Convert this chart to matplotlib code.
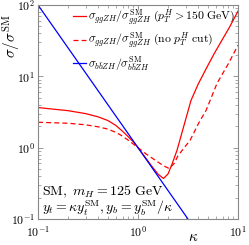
import matplotlib
matplotlib.use('Agg')
import matplotlib.pyplot as plt
import matplotlib.ticker as ticker
import numpy as np

plt.rcParams['mathtext.fontset'] = 'cm'
plt.rcParams['font.family'] = 'serif'
plt.rcParams['font.serif'] = ['DejaVu Serif']

# values
kappa_solid = [0.1, 0.2, 0.3, 0.4, 0.5, 0.6, 0.7, 0.8, 0.9, 1.0, 1.2, 1.4, 1.6, 1.8,
               2.0, 2.2, 2.45, 2.88, 3.39, 4.0, 4.9, 5.8, 6.9, 8.3, 10.0]
sigma_solid = [3.65, 3.3, 3.0, 2.7, 2.4, 2.05, 1.7, 1.42, 1.2, 1.0, 0.71, 0.53, 0.42, 0.37,
               0.43, 0.6, 0.91, 2.04, 4.6, 7.8, 13.5, 21.0, 32.0, 50.0, 82.0]

kappa_dashed = [0.1, 0.2, 0.3, 0.4, 0.5, 0.6, 0.7, 0.8, 0.9, 1.0, 1.2, 1.48, 1.79,
                2.05, 2.3, 2.51, 2.9, 3.31, 4.07, 4.79, 6.17, 8.0, 10.0]
sigma_dashed = [2.27, 2.2, 2.09, 1.96, 1.82, 1.64, 1.45, 1.27, 1.12, 1.0, 0.82, 0.67, 0.56,
                0.51, 0.6, 0.77, 1.0, 1.26, 2.25, 3.32, 7.97, 15.0, 27.3]

kappa_bb = [0.1, 1.0, 3.16]
sigma_bb = [100.0, 1.0, 0.1]

labels = [r'$\sigma_{ggZH}/\sigma^{\rm SM}_{ggZH}\ (p_T^H > 150\ {\rm GeV})$',
          r'$\sigma_{ggZH}/\sigma^{\rm SM}_{ggZH}\ ({\rm no}\ p_T^H\ {\rm cut})$',
          r'$\sigma_{b\bar{b}ZH}/\sigma^{\rm SM}_{b\bar{b}ZH}$']

fig = plt.figure(figsize=(2.49, 2.45), dpi=100)
ax = fig.add_axes([38 / 249, 26 / 245, 200 / 249, 214 / 245])

ax.plot(kappa_solid, sigma_solid, color='red', lw=0.9, label=labels[0])
ax.plot(kappa_dashed, sigma_dashed, color='red', lw=0.9, ls=(0, (4, 2.5)), label=labels[1])
ax.plot(kappa_bb, sigma_bb, color='blue', lw=0.9, label=labels[2])

ax.set_xscale('log')
ax.set_yscale('log')
ax.set_xlim(0.1, 10)
ax.set_ylim(0.1, 100)

fmt = ticker.FuncFormatter(lambda v, p: r'$10^{%d}$' % round(np.log10(v)))
ax.xaxis.set_major_formatter(fmt)
ax.yaxis.set_major_formatter(fmt)
ax.tick_params(which='both', direction='in', top=True, right=True, color='#888888',
               labelsize=8.5)
ax.tick_params(which='major', length=3.5, width=0.6)
ax.tick_params(which='minor', length=2, width=0.5)
ax.tick_params(axis='x', pad=4)
ax.tick_params(axis='y', pad=2)
for s in ax.spines.values():
    s.set_color('#888888')
    s.set_linewidth(0.8)

ax.set_xlabel(r'$\kappa$', fontsize=11)
ax.xaxis.set_label_coords(0.775, -0.05)
ax.set_ylabel(r'$\sigma/\sigma^{\rm SM}$', fontsize=11)
ax.yaxis.set_label_coords(-0.075, 0.855)

ax.legend(loc='upper left', bbox_to_anchor=(0.175, 0.99), frameon=False, fontsize=8.5,
          handlelength=1.1, handletextpad=0.2, labelspacing=0.25, borderpad=0,
          borderaxespad=0)

ax.text(0.02, 0.126, r'${\rm SM},\ m_H = 125\ {\rm GeV}$', transform=ax.transAxes,
        fontsize=10, va='center', ha='left')
ax.text(0.02, 0.05, r'$y_t = \kappa y_t^{\rm SM}, y_b = y_b^{\rm SM}/\kappa$',
        transform=ax.transAxes, fontsize=10, va='center', ha='left')

fig.savefig('out.png', dpi=100)
